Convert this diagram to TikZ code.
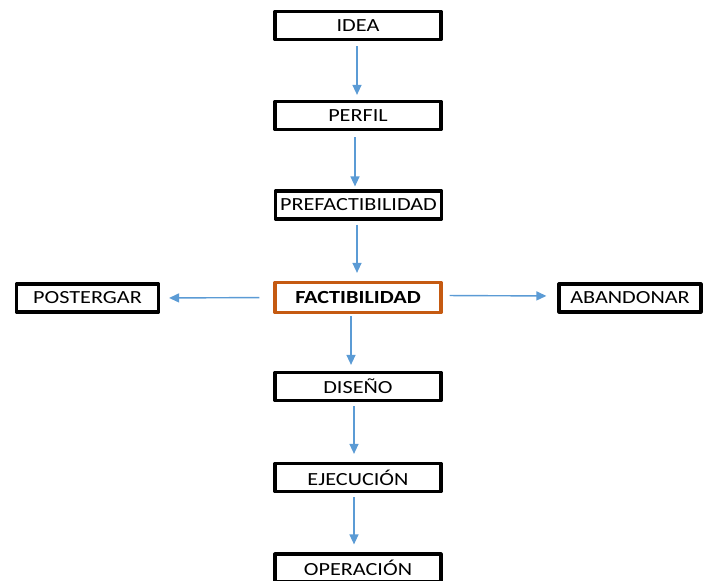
\documentclass[tikz,border=0pt]{standalone}
\usepackage{fontspec}
\setmainfont{Carlito}[FakeStretch=1.2]
\usetikzlibrary{arrows.meta,positioning,calc}
\definecolor{flecha}{HTML}{5B9BD5}
\definecolor{naranja}{HTML}{C55A11}

\begin{document}
\begin{tikzpicture}[x=1pt, y=-1pt, line join=round,
  caja/.style={draw=black, line width=3.2pt, minimum width=166pt, minimum height=28pt, inner sep=0pt, font=\fontsize{18.5}{20}\selectfont},
  lado/.style={caja, minimum width=142pt},
  clave/.style={caja, draw=naranja, minimum height=30pt, font=\fontsize{18.5}{20}\selectfont\bfseries},
  flechita/.style={draw=flecha, line width=1.4pt, -{Triangle[length=10pt,width=9pt]}}]
\useasboundingbox (0,0) rectangle (705,581);
\node[caja]  (idea)      at (358,25.5)  {IDEA};
\node[caja]  (perfil)    at (358,115.5) {PERFIL};
\node[caja]  (prefact)   at (358.5,205) {PREFACTIBILIDAD};
\node[clave] (fact)      at (358,297.5) {FACTIBILIDAD};
\node[lado]  (postergar) at (87.5,298)  {POSTERGAR};
\node[lado]  (abandonar) at (630,298)   {ABANDONAR};
\node[caja]  (diseno)    at (358,386.5) {DISEÑO};
\node[caja]  (ejecucion) at (358,477.5) {EJECUCIÓN};
\node[caja]  (operacion) at (358,568)   {OPERACIÓN};
\draw[flechita, shorten <=5pt, shorten >=5pt] ([xshift=-1pt]idea.south) -- ([xshift=-1pt]perfil.north);
\draw[flechita, shorten <=6pt, shorten >=3pt] ([xshift=-3pt]perfil.south) -- ([xshift=-3.5pt]prefact.north);
\draw[flechita, shorten <=4pt, shorten >=8pt] ([xshift=-1.5pt]prefact.south) -- ([xshift=-1pt]fact.north);
\draw[flechita, shorten <=2pt, shorten >=6pt] ([xshift=-7pt]fact.south) -- ([xshift=-7pt]diseno.north);
\draw[flechita, shorten <=4pt, shorten >=8pt] ([xshift=-4pt]diseno.south) -- ([xshift=-4pt]ejecucion.north);
\draw[flechita, shorten <=4pt, shorten >=8pt] ([xshift=-4pt]ejecucion.south) -- ([xshift=-4pt]operacion.north);
\draw[flechita, shorten <=14pt, shorten >=9pt] (fact.west) -- (postergar.east);
\draw[flechita, shorten <=7pt, shorten >=11pt] ([yshift=2pt]fact.east) -- ([yshift=2pt]abandonar.west);
\end{tikzpicture}
\end{document}
